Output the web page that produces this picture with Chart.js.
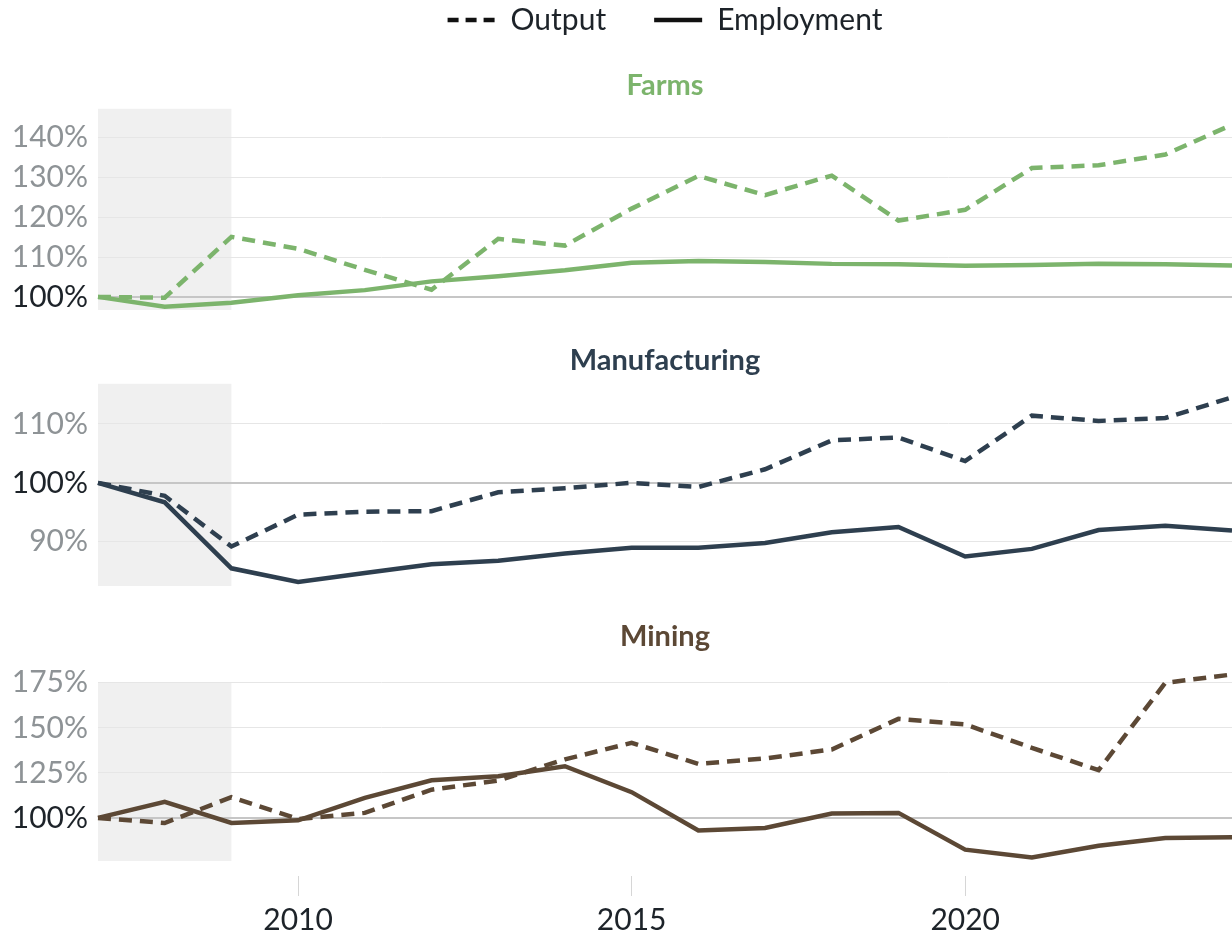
<!DOCTYPE html>
<html>
<head>
<meta charset="utf-8">
<script src="https://cdn.jsdelivr.net/npm/chart.js@4.4.1/dist/chart.umd.min.js"></script>
<style>
  html, body { margin: 0; padding: 0; background: #ffffff; }
  #wrap { position: relative; width: 1232px; height: 932px; overflow: hidden; }
  .panel { position: absolute; left: 0; width: 1232px; }
</style>
</head>
<body>
<div id="wrap">
  <div class="panel" style="top:0px;height:338px"><canvas id="c1"></canvas></div>
  <div class="panel" style="top:320px;height:300px"><canvas id="c2"></canvas></div>
  <div class="panel" style="top:600px;height:332px"><canvas id="c3"></canvas></div>
</div>
<script>
// ---- data ----
const years = [2007, 2008, 2009, 2010, 2011, 2012, 2013, 2014, 2015, 2016, 2017, 2018, 2019, 2020, 2021, 2022, 2023, 2024];
const xTickYears = [2010, 2015, 2020];
const recession = [2007, 2009];
const legendLabels = ['Output', 'Employment'];
const panelTitles = ['Farms', 'Manufacturing', 'Mining'];

const farmsOutput     = [100, 99.8, 115.1, 112.1, 106.8, 101.8, 114.6, 112.9, 122.2, 130.4, 125.6, 130.5, 119.2, 121.9, 132.4, 133.1, 135.8, 143.3];
const farmsEmployment = [100, 97.5, 98.5, 100.4, 101.7, 103.9, 105.2, 106.7, 108.6, 109.0, 108.8, 108.3, 108.2, 107.8, 108.0, 108.3, 108.2, 107.9];
const farmsTicks      = [100, 110, 120, 130, 140];

const mfgOutput       = [100, 97.8, 89.2, 94.6, 95.1, 95.2, 98.4, 99.1, 100.0, 99.3, 102.3, 107.2, 107.7, 103.7, 111.4, 110.5, 111.0, 114.5];
const mfgEmployment   = [100, 96.7, 85.5, 83.2, 84.7, 86.2, 86.8, 88.0, 89.0, 89.0, 89.8, 91.6, 92.5, 87.5, 88.8, 92.0, 92.7, 91.9];
const mfgTicks        = [90, 100, 110];

const miningOutput     = [100, 97.2, 111.5, 99.4, 102.8, 115.7, 120.7, 132.5, 141.7, 130.0, 133.0, 138.0, 155.0, 151.9, 138.9, 126.5, 175.0, 179.6];
const miningEmployment = [100, 108.9, 97.2, 98.7, 111.1, 120.9, 123.1, 128.7, 114.3, 93.0, 94.4, 102.4, 102.8, 82.4, 78.1, 84.6, 88.9, 89.3];
const miningTicks      = [100, 125, 150, 175];

// ---- drawing ----
const FONT = 'Lato, "Noto Sans", sans-serif';

const shadePlugin = {
  id: 'recessionShade',
  beforeDraw(chart) {
    const { ctx, chartArea, scales } = chart;
    const x = scales.x;
    const x0 = x.getPixelForValue(recession[0]);
    const x1 = x.getPixelForValue(recession[1]);
    ctx.save();
    ctx.fillStyle = '#f0f0f0';
    ctx.fillRect(x0, chartArea.top, x1 - x0, chartArea.bottom - chartArea.top);
    ctx.restore();
  }
};

function toPoints(values) {
  return years.map((yr, i) => ({ x: yr, y: values[i] }));
}

function makeChart(id, p) {
  const legendOpts = p.legend ? {
    display: true,
    position: 'top',
    fullSize: false,
    weight: 3000,
    align: 'center',
    onClick: null,
    labels: {
      usePointStyle: true,
      pointStyleWidth: 48,
      padding: 48,
      color: '#1d2329',
      font: { family: FONT, size: 30 },
      generateLabels: () => legendLabels.map((t, i) => ({
        text: t,
        fillStyle: '#111111',
        strokeStyle: '#111111',
        fontColor: '#1d2329',
        lineWidth: 4.5,
        lineDash: i === 0 ? [11, 7] : [],
        lineCap: 'butt',
        pointStyle: 'line',
        hidden: false,
        datasetIndex: i
      }))
    }
  } : { display: false };

  return new Chart(document.getElementById(id), {
    type: 'line',
    data: {
      datasets: [
        { label: legendLabels[0], data: toPoints(p.output), borderColor: p.color, borderWidth: 4.5,
          borderDash: [13, 8], pointRadius: 0, tension: 0, fill: false, clip: false },
        { label: legendLabels[1], data: toPoints(p.employment), borderColor: p.color, borderWidth: 4.5,
          pointRadius: 0, tension: 0, fill: false, clip: false }
      ]
    },
    options: {
      responsive: true,
      maintainAspectRatio: false,
      animation: false,
      events: [],
      layout: { padding: p.padding },
      scales: {
        x: {
          type: 'linear',
          min: years[0],
          max: years[years.length - 1],
          display: p.showX,
          afterBuildTicks: s => { s.ticks = xTickYears.map(v => ({ value: v })); },
          afterFit: s => { s.height = p.showX ? 71 : 0; },
          border: { display: false },
          grid: {
            drawOnChartArea: false,
            drawTicks: true,
            tickLength: 35,
            tickBorderDash: [0, 15, 20, 100],
            tickColor: '#d6d6d6',
            tickWidth: 1
          },
          ticks: {
            autoSkip: false,
            maxRotation: 0,
            padding: 6,
            color: '#1d2329',
            font: { family: FONT, size: 30 },
            callback: v => String(v)
          }
        },
        y: {
          min: p.min,
          max: p.max,
          afterFit: s => { s.width = 98; },
          afterBuildTicks: s => { s.ticks = p.ticks.map(v => ({ value: v })); },
          border: { display: false },
          grid: {
            drawTicks: false,
            color: c => (c.tick && c.tick.value === 100) ? '#c6c6c6' : '#e6e6e6',
            lineWidth: c => (c.tick && c.tick.value === 100) ? 2 : 1
          },
          ticks: {
            padding: 10,
            font: { family: FONT, size: 30 },
            color: c => (c.tick && c.tick.value === 100) ? '#1d2329' : '#8e9396',
            callback: v => v + '%'
          }
        }
      },
      plugins: {
        legend: legendOpts,
        tooltip: { enabled: false },
        title: {
          display: true,
          text: p.title,
          color: p.color,
          fullSize: false,
          weight: 2000,
          font: { family: FONT, size: 29, weight: 'bold' },
          padding: p.titlePadding
        }
      }
    },
    plugins: [shadePlugin]
  });
}

makeChart('c1', {
  title: panelTitles[0], color: '#7cb46c', output: farmsOutput, employment: farmsEmployment,
  ticks: farmsTicks, min: 96.7, max: 147.3, showX: false, legend: true,
  padding: { top: -43, bottom: 28, left: 0, right: 0 },
  titlePadding: { top: 23, bottom: 6 }
});
makeChart('c2', {
  title: panelTitles[1], color: '#2e3f4f', output: mfgOutput, employment: mfgEmployment,
  ticks: mfgTicks, min: 82.5, max: 116.8, showX: false, legend: false,
  padding: { top: 0, bottom: 34, left: 0, right: 0 },
  titlePadding: { top: 23, bottom: 6 }
});
makeChart('c3', {
  title: panelTitles[2], color: '#5c4835', output: miningOutput, employment: miningEmployment,
  ticks: miningTicks, min: 76.1, max: 175, showX: true, legend: false,
  padding: { top: 0, bottom: 0, left: 0, right: 0 },
  titlePadding: { top: 19, bottom: 29 }
});
</script>
</body>
</html>
